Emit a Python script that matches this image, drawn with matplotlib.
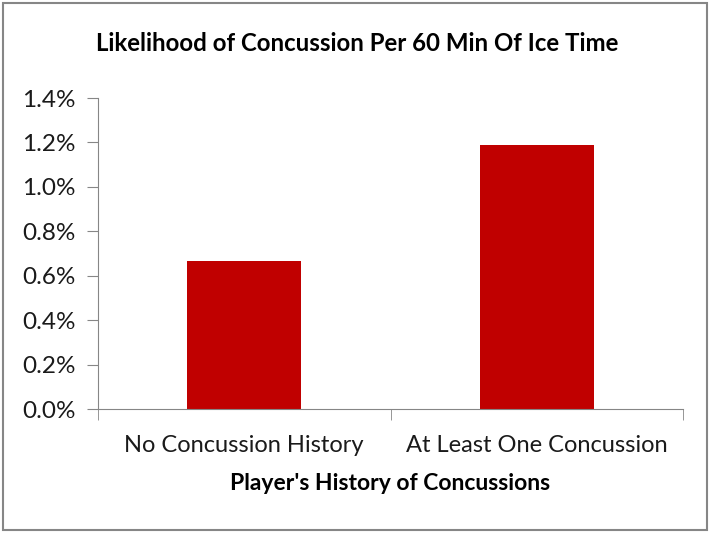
import matplotlib.pyplot as plt
import numpy as np
from matplotlib.patches import Rectangle
from matplotlib.ticker import FuncFormatter

plt.rcParams["font.family"] = ["Lato", "DejaVu Sans"]

categories = ["No Concussion History", "At Least One Concussion"]
likelihood = [0.667, 1.188]  # percent per 60 min of ice time
y_ticks = [0.0, 0.2, 0.4, 0.6, 0.8, 1.0, 1.2, 1.4]

fig = plt.figure(figsize=(7.1, 5.33), dpi=100)
ax = fig.add_axes([0.138, 0.2326, 0.824, 0.5835])

x = np.arange(len(categories))
ax.bar(
    x,
    likelihood,
    width=0.39,
    color="#C00000"
)

ax.set_xlim(-0.5, len(categories) - 0.5)
ax.set_ylim(0, 1.4)
ax.set_yticks(y_ticks)
ax.yaxis.set_major_formatter(
    FuncFormatter(lambda v, _: f"{v:.1f}%")
)

ax.set_xticks(x)
ax.set_xticklabels(categories)
# category separators sit between the bars, like Excel's tick marks
ax.set_xticks([-0.5, 0.5, 1.5], minor=True)
ax.tick_params(axis="x", which="major", length=0, pad=19, labelsize=17, labelcolor="#1a1a1a")
ax.tick_params(axis="x", which="minor", length=8, direction="out", color="#868686")
ax.tick_params(axis="y", length=8, color="#868686", pad=8, labelsize=17.5, labelcolor="#1a1a1a")

for side in ["top", "right"]:
    ax.spines[side].set_visible(False)
for side in ["left", "bottom"]:
    ax.spines[side].set_color("#868686")

ax.set_xlabel(
    "Player's History of Concussions",
    fontsize=16.5,
    fontweight="bold",
    labelpad=12
)

fig.text(
    0.503,
    0.918,
    "Likelihood of Concussion Per 60 Min Of Ice Time",
    ha="center",
    va="center",
    fontsize=17.3,
    fontweight="bold"
)

# outer chart frame
fig.patches.append(
    Rectangle(
        (0.004, 0.005),
        0.992,
        0.99,
        transform=fig.transFigure,
        fill=False,
        edgecolor="#868686",
        linewidth=1.5
    )
)

fig.savefig("out.png", dpi=100)
